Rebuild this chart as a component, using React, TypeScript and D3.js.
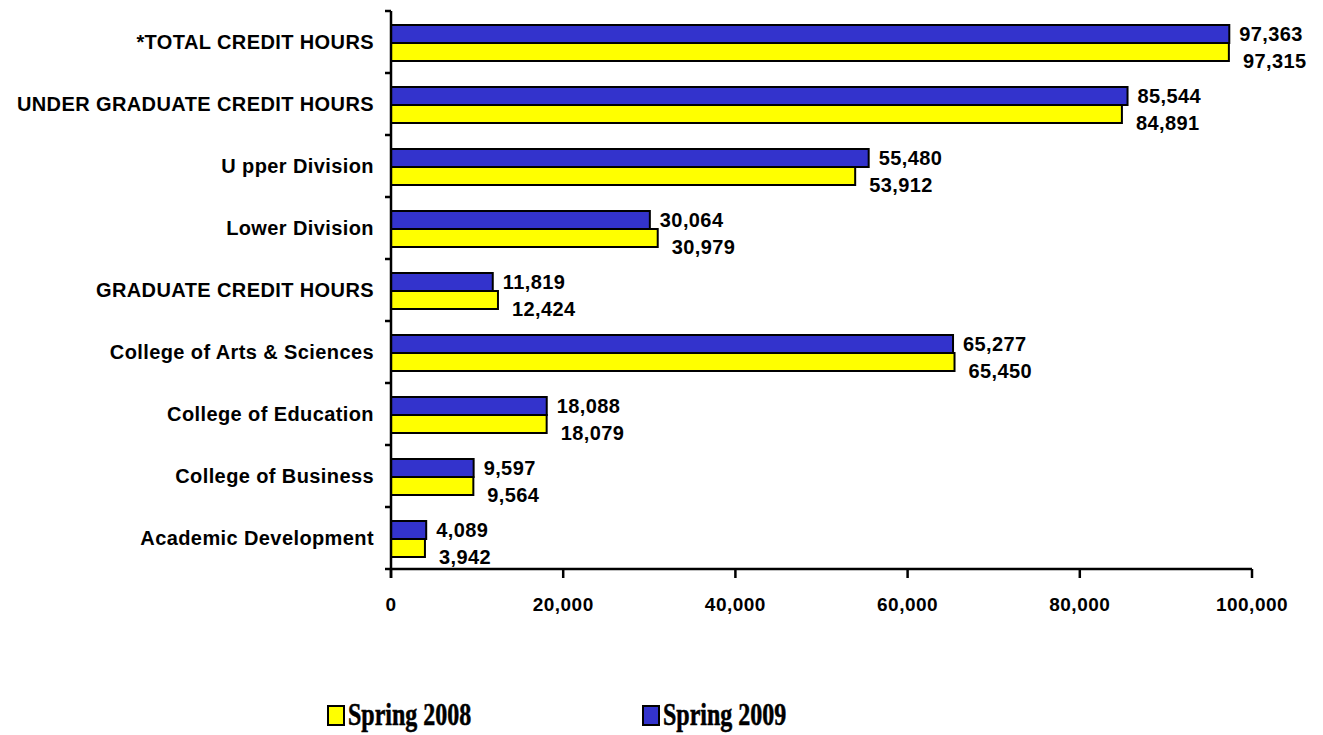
import React from "react";
import * as d3 from "d3";

const categories = [
  "*TOTAL CREDIT HOURS",
  "UNDER GRADUATE CREDIT HOURS",
  "U pper Division",
  "Lower Division",
  "GRADUATE CREDIT HOURS",
  "College of Arts & Sciences",
  "College of Education",
  "College of Business",
  "Academic Development",
];
const spring2009 = [97363, 85544, 55480, 30064, 11819, 65277, 18088, 9597, 4089];
const spring2008 = [97315, 84891, 53912, 30979, 12424, 65450, 18079, 9564, 3942];
const xTicks = [0, 20000, 40000, 60000, 80000, 100000];
const seriesNames = ["Spring 2009", "Spring 2008"];
const seriesColors = ["#3333CC", "#FFFF00"];

const W = 1323;
const H = 735;
const FONT = "'Liberation Sans', Arial, sans-serif";

export default function App() {
  const x = d3.scaleLinear().domain([0, 100000]).range([391, 1252]);
  const y = d3.scaleBand<string>().domain(categories).range([11, 569]).paddingInner(0).paddingOuter(0);
  const inner = d3.scaleBand<string>().domain(seriesNames).range([14, 50]);
  const fmt = d3.format(",");
  const series = [spring2009, spring2008];
  const x0 = x(0);

  return (
    <svg width={W} height={H} style={{ position: "absolute", left: 0, top: 0, background: "#fff" }}>
      <rect x={0} y={0} width={W} height={H} fill="#fff" />
      {categories.map((c, i) => (
        <g key={c}>
          {series.map((vals, s) => {
            const by = (y(c) as number) + (inner(seriesNames[s]) as number);
            const bh = inner.bandwidth();
            const v = vals[i];
            return (
              <g key={s}>
                <rect x={x0} y={by} width={x(v) - x0} height={bh} fill={seriesColors[s]} stroke="#000" strokeWidth={2} />
                <text
                  x={x(v) + (s === 0 ? 10 : 14)}
                  y={by + bh / 2 + (s === 0 ? 0 : 9)}
                  dominantBaseline="central"
                  fontFamily={FONT}
                  fontWeight="bold"
                  fontSize={20}
                  letterSpacing={0.4}
                  fill="#000"
                >
                  {fmt(v)}
                </text>
              </g>
            );
          })}
          <text
            x={374}
            y={(y(c) as number) + y.bandwidth() / 2}
            textAnchor="end"
            dominantBaseline="central"
            fontFamily={FONT}
            fontWeight="bold"
            fontSize={20}
            letterSpacing={0.4}
            fill="#000"
          >
            {c}
          </text>
        </g>
      ))}
      {/* y axis */}
      <line x1={x0} x2={x0} y1={11} y2={578} stroke="#000" strokeWidth={2.5} />
      {d3.range(categories.length + 1).map((k) => {
        const ty = 11 + k * y.step();
        return <line key={k} x1={385} x2={x0} y1={ty} y2={ty} stroke="#000" strokeWidth={2.5} />;
      })}
      {/* x axis */}
      <line x1={x0} x2={x(100000)} y1={569} y2={569} stroke="#000" strokeWidth={2.5} />
      {xTicks.map((t) => (
        <g key={t}>
          <line x1={x(t)} x2={x(t)} y1={569} y2={578} stroke="#000" strokeWidth={2.5} />
          <text
            x={x(t)}
            y={604}
            textAnchor="middle"
            dominantBaseline="central"
            fontFamily={FONT}
            fontWeight="bold"
            fontSize={19}
            letterSpacing={0.5}
            fill="#000"
          >
            {fmt(t)}
          </text>
        </g>
      ))}
      {/* legend */}
      {[
        { name: seriesNames[1], color: seriesColors[1], lx: 327 },
        { name: seriesNames[0], color: seriesColors[0], lx: 642 },
      ].map((it) => (
        <g key={it.name}>
          <rect x={it.lx + 1} y={706} width={16} height={19} fill={it.color} stroke="#000" strokeWidth={2} />
          <text
            transform={`translate(${it.lx + 21},725) scale(1,1.35)`}
            fontFamily="'Liberation Serif', 'Times New Roman', serif"
            fontWeight="bold"
            fontSize={24}
            stroke="#000"
            strokeWidth={0.4}
            fill="#000"
          >
            {it.name}
          </text>
        </g>
      ))}
    </svg>
  );
}
